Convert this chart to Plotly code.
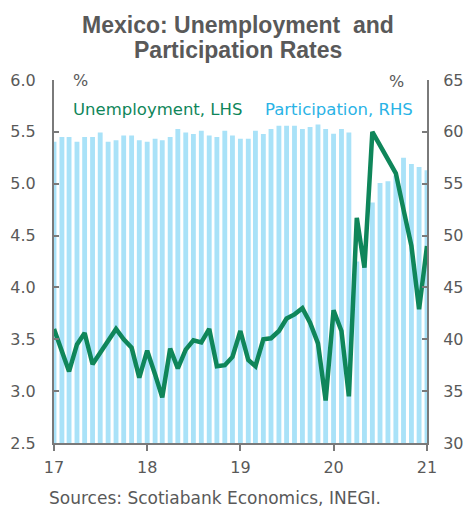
import plotly.graph_objects as go
import pandas as pd

# ---------------- data ----------------
months = pd.date_range("2017-01-01", "2021-01-01", freq="MS")

unemployment = [
    3.60, 3.40, 3.19, 3.45, 3.56, 3.26, 3.37, 3.49, 3.60, 3.50, 3.42, 3.13,
    3.39, 3.16, 2.94, 3.41, 3.22, 3.40, 3.49, 3.47, 3.60, 3.24, 3.25, 3.33,
    3.58, 3.30, 3.24, 3.50, 3.51, 3.58, 3.70, 3.74, 3.80, 3.66, 3.46, 2.91,
    3.78, 3.58, 2.95, 4.67, 4.19, 5.50, 5.37, 5.23, 5.10, 4.75, 4.40, 3.79,
    4.40,
]

participation = [
    59.05, 59.50, 59.50, 59.05, 59.50, 59.50, 59.95, 59.05, 59.18, 59.66, 59.66, 59.18,
    59.05, 59.34, 59.20, 59.50, 60.27, 59.95, 59.80, 60.10, 59.66, 59.50, 60.10, 59.66,
    59.34, 59.34, 60.10, 59.80, 60.27, 60.59, 60.59, 60.59, 60.27, 60.47, 60.72, 60.27,
    59.82, 60.27, 59.95, 47.50, 47.40, 53.20, 55.07, 55.23, 55.80, 57.50, 56.90, 56.60,
    56.30,
]

year_ticks = ["2017-01-01", "2018-01-01", "2019-01-01", "2020-01-01", "2021-01-01"]
year_labels = ["17", "18", "19", "20", "21"]
left_ticks = [2.5, 3.0, 3.5, 4.0, 4.5, 5.0, 5.5, 6.0]
right_ticks = [30, 35, 40, 45, 50, 55, 60, 65]

# ---------------- layout helpers ----------------
W, H = 467, 507
L, R, T, B = 54, 427, 80, 443


def px(x):
    return (x - L) / (R - L)


def py(y):
    return (B - y) / (B - T)


GREEN = "#0f865a"
BAR = "#a9e2f8"
BLUE_TXT = "#2ab3e6"
GRAY = "#595959"
AXIS = "#7a7a7a"
FONT = "DejaVu Sans"
TFONT = "Liberation Sans, Arial"

fig = go.Figure()
fig.add_trace(go.Bar(
    x=months, y=participation, yaxis="y",
    marker=dict(color=BAR, line=dict(width=0)),
    width=19 * 86400000,
))
fig.add_trace(go.Scatter(
    x=months, y=unemployment, yaxis="y2", mode="lines",
    line=dict(color=GREEN, width=4.5),
))

axis_common = dict(showgrid=False, zeroline=False, showline=True, automargin=False,
                   linecolor=AXIS, linewidth=2, tickcolor=AXIS, tickwidth=1.5,
                   tickfont=dict(family=FONT, size=16, color=GRAY))

fig.update_layout(
    width=W, height=H, autosize=False,
    margin=dict(l=L, r=W - R, t=T, b=H - B, pad=0),
    paper_bgcolor="white", plot_bgcolor="white",
    showlegend=False,
    xaxis=dict(type="date", range=["2017-01-01", "2021-01-01"],
               tickmode="array", tickvals=year_ticks, ticktext=year_labels,
               ticks="outside", ticklen=6, ticklabelstandoff=3, **axis_common),
    yaxis=dict(side="right", range=[30, 65], tickmode="array",
               tickvals=right_ticks, ticks="inside", ticklen=5,
               ticklabelstandoff=11, **axis_common),
    yaxis2=dict(side="left", overlaying="y", range=[2.5, 6.0], tickmode="array",
                tickvals=left_ticks, ticktext=[f"{v:.1f}" for v in left_ticks],
                ticks="inside", ticklen=5, ticklabelstandoff=13, **axis_common),
)

ann = [
    dict(text="<b>Mexico: Unemployment\u00a0 and</b>", x=px(238), y=py(25),
         font=dict(family=TFONT, size=23, color=GRAY)),
    dict(text="<b>Participation Rates</b>", x=px(238), y=py(50),
         font=dict(family=TFONT, size=23, color=GRAY)),
    dict(text="Unemployment, LHS", x=px(70.5), y=py(110), xanchor="left",
         font=dict(family=FONT, size=16.5, color=GREEN)),
    dict(text="Participation, RHS", x=px(263), y=py(110), xanchor="left",
         font=dict(family=FONT, size=16.5, color=BLUE_TXT)),
    dict(text="%", x=px(80.5), y=py(80), font=dict(family=FONT, size=16, color=GRAY)),
    dict(text="%", x=px(396.5), y=py(81), font=dict(family=FONT, size=16, color=GRAY)),
    dict(text="Sources: Scotiabank Economics, INEGI.", x=px(47), y=py(498),
         xanchor="left", font=dict(family=FONT, size=17, color=GRAY)),
]
for a in ann:
    a.setdefault("xanchor", "center")
    a.setdefault("yanchor", "middle")
    a.update(xref="paper", yref="paper", showarrow=False)
fig.update_layout(annotations=ann)

fig.write_html("out.html")
